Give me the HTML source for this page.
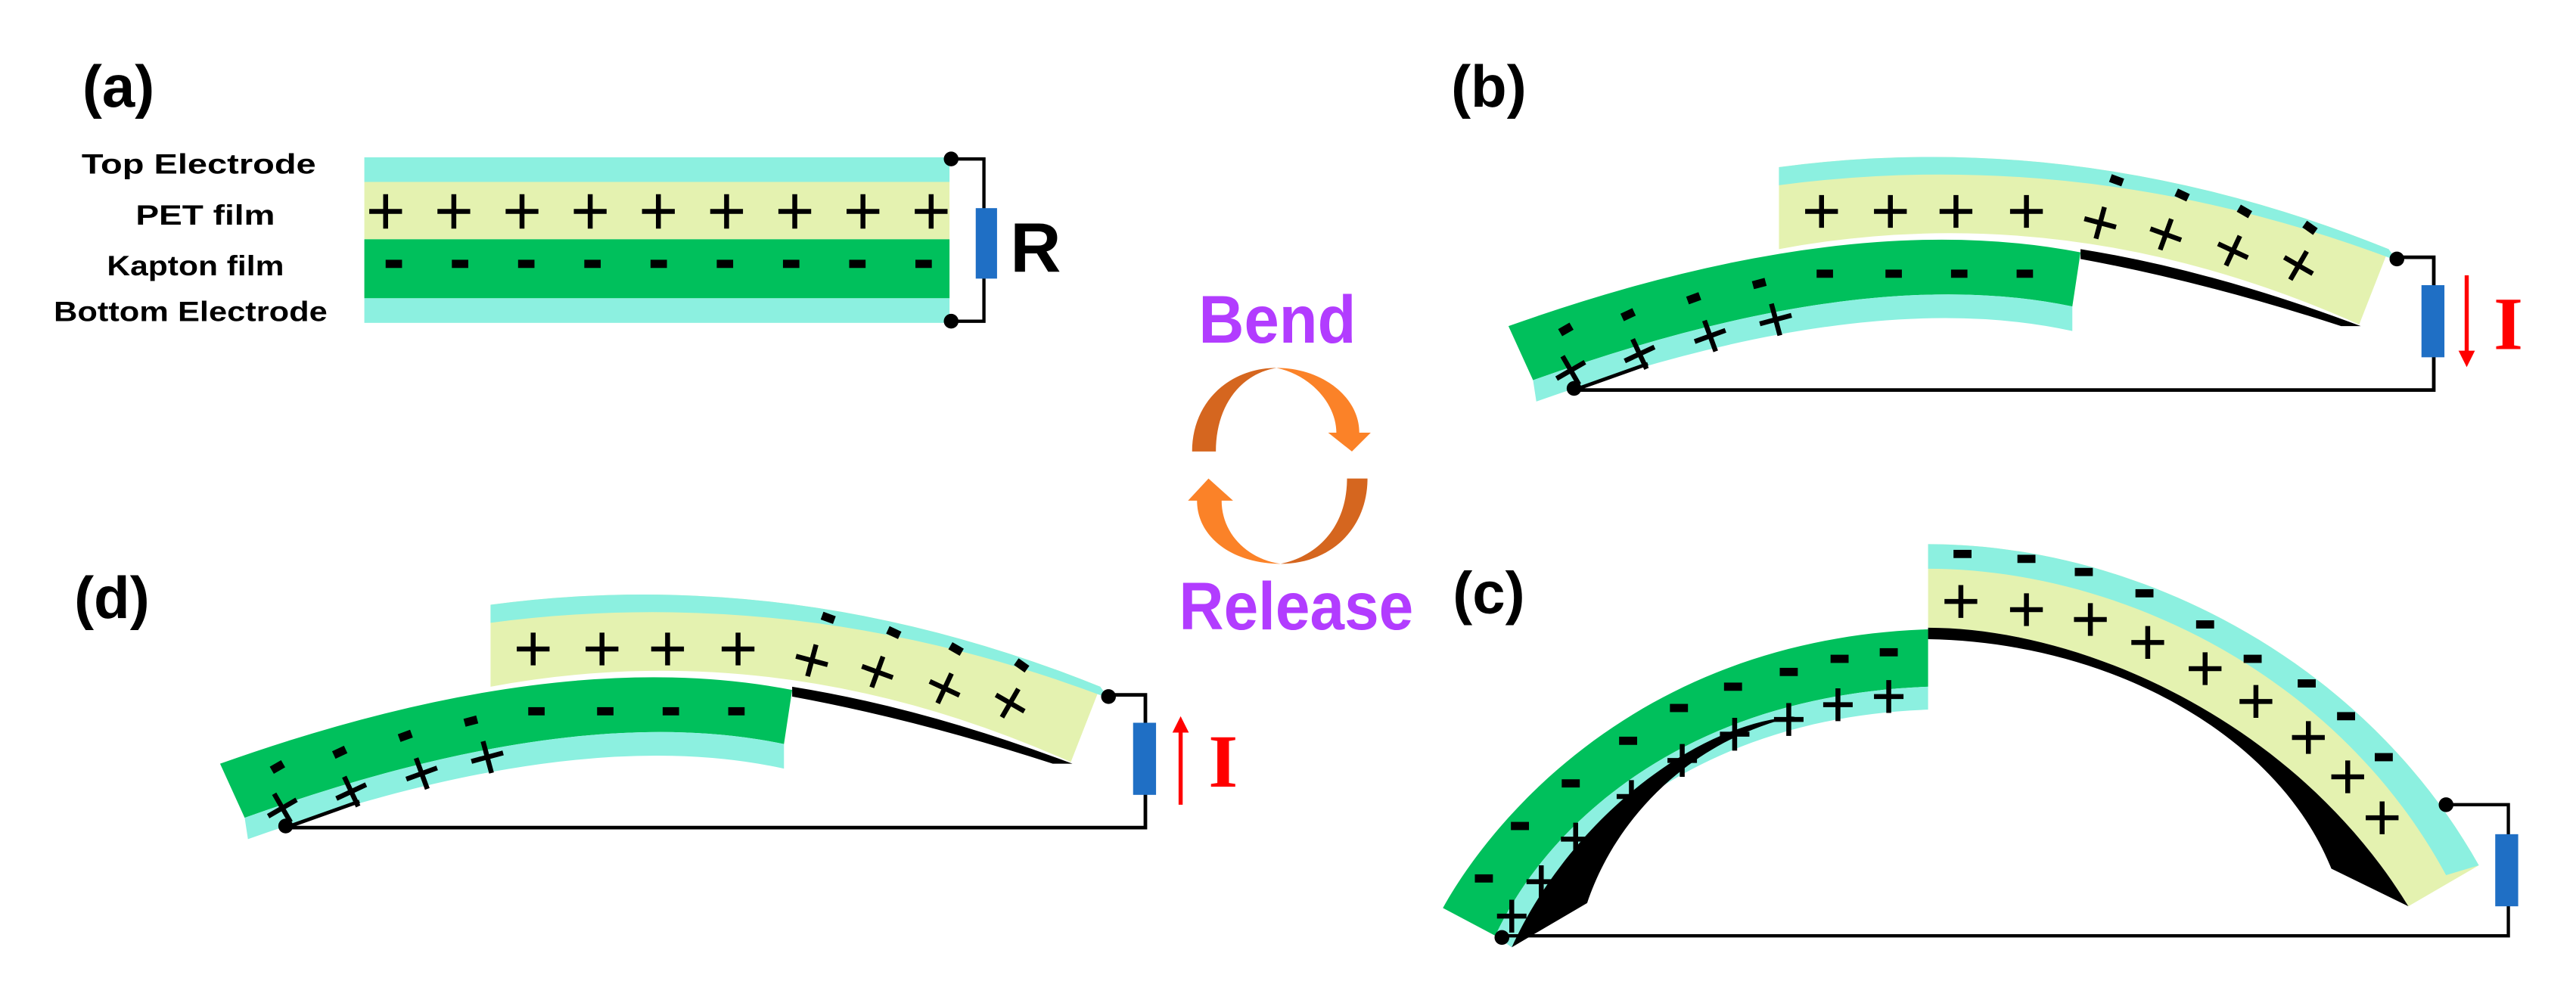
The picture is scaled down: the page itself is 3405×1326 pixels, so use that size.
<!DOCTYPE html>
<html><head><meta charset="utf-8"><style>
html,body{margin:0;padding:0;background:#fff;}
svg{display:block;}
text{font-family:"Liberation Sans",sans-serif;font-weight:bold;}
</style></head><body>
<svg width="3405" height="1326" viewBox="0 0 1571 612" xmlns="http://www.w3.org/2000/svg">
<defs>
<g id="stripB">
  <!-- upper strip -->
  <path d="M1085,102 Q1271,77 1457,152 L1439,198 Q1262,119 1085,152 Z" fill="#e4f2b0"/>
  <path d="M1085,102 Q1271,77 1457,152 L1462,159 Q1275,88 1085,113 Z" fill="#8cf0e0"/>
  <path d="M1269,152 Q1350,165 1440,199 L1428,199 Q1345,172 1269,158 Z" fill="#000"/>
  <!-- lower strip -->
  <path d="M920,199 Q1125,126 1269,154 L1264,187 Q1135,160 935,232 Z" fill="#00c05c"/>
  <path d="M935,232 Q1135,160 1264,187 L1264,202 Q1137,174 937,245 Z" fill="#8cf0e0"/>
  <!-- charges upper -->
  <g stroke="#000" stroke-width="3" fill="none">
    <path transform="translate(1111,129)" d="M-10,0h20M0,-10v20"/>
    <path transform="translate(1153,129)" d="M-10,0h20M0,-10v20"/>
    <path transform="translate(1193,129)" d="M-10,0h20M0,-10v20"/>
    <path transform="translate(1236,129)" d="M-10,0h20M0,-10v20"/>
    <path transform="translate(1281,136) rotate(15)" d="M-10,0h20M0,-10v20"/>
    <path transform="translate(1321,143) rotate(20)" d="M-10,0h20M0,-10v20"/>
    <path transform="translate(1362,153) rotate(25)" d="M-10,0h20M0,-10v20"/>
    <path transform="translate(1402,162) rotate(30)" d="M-10,0h20M0,-10v20"/>
    <path transform="translate(958,226) rotate(-30)" d="M-10,0h20M0,-10v20"/>
    <path transform="translate(1000,216) rotate(-25)" d="M-10,0h20M0,-10v20"/>
    <path transform="translate(1043,205) rotate(-20)" d="M-10,0h20M0,-10v20"/>
    <path transform="translate(1083,195) rotate(-15)" d="M-10,0h20M0,-10v20"/>
  </g>
  <g fill="#000">
    <rect x="-4" y="-2.5" width="8" height="5" transform="translate(1291,110) rotate(20)"/>
    <rect x="-4" y="-2.5" width="8" height="5" transform="translate(1331,119) rotate(25)"/>
    <rect x="-4" y="-2.5" width="8" height="5" transform="translate(1369,129) rotate(30)"/>
    <rect x="-4" y="-2.5" width="8" height="5" transform="translate(1409,139) rotate(35)"/>
    <rect x="-5" y="-2.5" width="10" height="5" transform="translate(1113,167)"/>
    <rect x="-5" y="-2.5" width="10" height="5" transform="translate(1155,167)"/>
    <rect x="-5" y="-2.5" width="10" height="5" transform="translate(1195,167)"/>
    <rect x="-5" y="-2.5" width="10" height="5" transform="translate(1235,167)"/>
    <rect x="-4" y="-2.5" width="8" height="5" transform="translate(955,201) rotate(-30)"/>
    <rect x="-4" y="-2.5" width="8" height="5" transform="translate(993,192) rotate(-25)"/>
    <rect x="-4" y="-2.5" width="8" height="5" transform="translate(1033,182) rotate(-20)"/>
    <rect x="-4" y="-2.5" width="8" height="5" transform="translate(1073,173) rotate(-15)"/>
  </g>
  <!-- circuit -->
  <path d="M1462,157 H1484.5 V238 H960 L1005,222" fill="none" stroke="#000" stroke-width="2.2"/>
  <circle cx="1462" cy="158" r="4.5" fill="#000"/>
  <circle cx="960" cy="237" r="4.5" fill="#000"/>
  <rect x="1477" y="174" width="14" height="44" fill="#1f6fc5"/>
</g>
</defs>

<!-- Panel (a) -->
<text x="50" y="65" font-size="36">(a)</text>
<text x="121" y="106" font-size="17" text-anchor="middle" textLength="143" lengthAdjust="spacingAndGlyphs">Top Electrode</text>
<text x="125" y="137" font-size="17" text-anchor="middle" textLength="85" lengthAdjust="spacingAndGlyphs">PET film</text>
<text x="119" y="168" font-size="17" text-anchor="middle" textLength="108" lengthAdjust="spacingAndGlyphs">Kapton film</text>
<text x="116" y="196" font-size="17" text-anchor="middle" textLength="167" lengthAdjust="spacingAndGlyphs">Bottom Electrode</text>
<rect x="222" y="96" width="357" height="15" fill="#8cf0e0"/>
<rect x="222" y="111" width="357" height="35" fill="#e4f2b0"/>
<rect x="222" y="146" width="357" height="36" fill="#00c05c"/>
<rect x="222" y="182" width="357" height="15" fill="#8cf0e0"/>
<g stroke="#000" stroke-width="3">
  <path d="M225,129h20M235,118.5v21M266.6,129h20M276.6,118.5v21M308.2,129h20M318.2,118.5v21M349.8,129h20M359.8,118.5v21M391.4,129h20M401.4,118.5v21M433,129h20M443,118.5v21M474.6,129h20M484.6,118.5v21M516.2,129h20M526.2,118.5v21M557.8,129h20M567.8,118.5v21"/>
</g>
<g fill="#000">
  <rect x="235" y="158.5" width="10" height="5"/><rect x="275.4" y="158.5" width="10" height="5"/><rect x="315.8" y="158.5" width="10" height="5"/><rect x="356.2" y="158.5" width="10" height="5"/><rect x="396.6" y="158.5" width="10" height="5"/><rect x="437" y="158.5" width="10" height="5"/><rect x="477.4" y="158.5" width="10" height="5"/><rect x="517.8" y="158.5" width="10" height="5"/><rect x="558.2" y="158.5" width="10" height="5"/>
</g>
<path d="M580,97 H600 V196 H580" fill="none" stroke="#000" stroke-width="2"/>
<circle cx="580" cy="97" r="4.5" fill="#000"/>
<circle cx="580" cy="196" r="4.5" fill="#000"/>
<rect x="595" y="127" width="13" height="43" fill="#1f6fc5"/>
<text x="616" y="166" font-size="43">R</text>

<!-- Middle -->
<text x="731" y="209" font-size="41" fill="#b23cff" textLength="96" lengthAdjust="spacingAndGlyphs">Bend</text>
<text x="719" y="384" font-size="41" fill="#b23cff" textLength="143" lengthAdjust="spacingAndGlyphs">Release</text>
<path d="M727,275.5 C727,245 750,224.5 778.5,224.5 C757,228 741.5,247 741.5,275.5 Z" fill="#d5661f"/>
<path d="M778.5,224.5 C806,224.5 829,242 829,264 L836,264 L824.5,275.5 L810,264 L815,264 C815,247 800,229 778.5,224.5 Z" fill="#fb8228"/>
<path d="M834,292 C834,322 812,344 781,344 C805,339 821.5,320 821.5,292 Z" fill="#d5661f"/>
<path d="M781,344 C752,344 730,328 730,305.5 L724.5,305.5 L737,292 L752,305.5 L745,305.5 C745,325 760,341 781,344 Z" fill="#fb8228"/>

<!-- Panel (b) -->
<text x="885" y="65" font-size="36">(b)</text>
<use href="#stripB"/>
<path d="M1504.6,168 V218" stroke="#f00" stroke-width="2.5"/>
<path d="M1499.6,214 L1504.6,224 L1509.6,214 Z" fill="#f00"/>
<text x="1521" y="213" font-size="46" fill="#f00" style="font-family:'Liberation Serif',serif">I</text>

<!-- Panel (d) -->
<text x="45" y="377" font-size="36">(d)</text>
<g transform="translate(-786,267)"><use href="#stripB"/></g>
<path d="M720,443 V491" stroke="#f00" stroke-width="2.5"/>
<path d="M715,447 L720,437 L725,447 Z" fill="#f00"/>
<text x="737" y="480" font-size="46" fill="#f00" style="font-family:'Liberation Serif',serif">I</text>

<!-- Panel (c) -->
<text x="886" y="374" font-size="36">(c)</text>
<path d="M880,554 C910,500 1000,390 1176,384 L1176,419 C1020,425 940,510 912,571 Z" fill="#00c05c"/>
<path d="M912,571 C940,510 1020,425 1176,419 L1176,433 C1030,438 950,520 922,578 Z" fill="#8cf0e0"/>
<path d="M922,578 L968,551 C985,500 1030,452 1095,437 C1030,442 955,505 922,578 Z" fill="#000"/>
<path d="M1176,332 C1300,332 1440,400 1512,528 L1469,553 C1400,440 1270,383 1176,383 Z" fill="#e4f2b0"/>
<path d="M1176,332 C1300,332 1440,400 1512,528 L1492,534 C1425,410 1290,347 1176,347 Z" fill="#8cf0e0"/>
<path d="M1176,383 C1270,383 1400,440 1469,553 L1422,530 C1390,450 1290,392 1176,390 Z" fill="#000"/>
<g fill="#000">
  <rect x="-5.5" y="-2.5" width="11" height="5" transform="translate(905,536)"/>
  <rect x="-5.5" y="-2.5" width="11" height="5" transform="translate(927,504)"/>
  <rect x="-5.5" y="-2.5" width="11" height="5" transform="translate(958,478)"/>
  <rect x="-5.5" y="-2.5" width="11" height="5" transform="translate(993,452)"/>
  <rect x="-5.5" y="-2.5" width="11" height="5" transform="translate(1024,432)"/>
  <rect x="-5.5" y="-2.5" width="11" height="5" transform="translate(1057,419)"/>
  <rect x="-5.5" y="-2.5" width="11" height="5" transform="translate(1091,410)"/>
  <rect x="-5.5" y="-2.5" width="11" height="5" transform="translate(1122,402)"/>
  <rect x="-5.5" y="-2.5" width="11" height="5" transform="translate(1152,398)"/>
  <rect x="-5.5" y="-2.5" width="11" height="5" transform="translate(1197,338)"/>
  <rect x="-5.5" y="-2.5" width="11" height="5" transform="translate(1236,341)"/>
  <rect x="-5.5" y="-2.5" width="11" height="5" transform="translate(1271,349)"/>
  <rect x="-5.5" y="-2.5" width="11" height="5" transform="translate(1308,362)"/>
  <rect x="-5.5" y="-2.5" width="11" height="5" transform="translate(1345,381)"/>
  <rect x="-5.5" y="-2.5" width="11" height="5" transform="translate(1374,402)"/>
  <rect x="-5.5" y="-2.5" width="11" height="5" transform="translate(1407,417)"/>
  <rect x="-5.5" y="-2.5" width="11" height="5" transform="translate(1431,437)"/>
  <rect x="-5.5" y="-2.5" width="11" height="5" transform="translate(1454,462)"/>
</g>
<g stroke="#000" stroke-width="3" fill="none">
  <path transform="translate(922,559)" d="M-9,0h18M0,-10v20"/>
  <path transform="translate(940,538)" d="M-9,0h18M0,-10v20"/>
  <path transform="translate(961,512)" d="M-9,0h18M0,-10v20"/>
  <path transform="translate(995,486)" d="M-9,0h18M0,-10v20"/>
  <path transform="translate(1026,464)" d="M-9,0h18M0,-10v20"/>
  <path transform="translate(1058,448)" d="M-9,0h18M0,-10v20"/>
  <path transform="translate(1091,439)" d="M-9,0h18M0,-10v20"/>
  <path transform="translate(1121,430)" d="M-9,0h18M0,-10v20"/>
  <path transform="translate(1152,425)" d="M-9,0h18M0,-10v20"/>
  <path transform="translate(1196,367)" d="M-10,0h20M0,-10v20"/>
  <path transform="translate(1236,372)" d="M-10,0h20M0,-10v20"/>
  <path transform="translate(1275,378)" d="M-10,0h20M0,-10v20"/>
  <path transform="translate(1310,392)" d="M-10,0h20M0,-10v20"/>
  <path transform="translate(1345,408)" d="M-10,0h20M0,-10v20"/>
  <path transform="translate(1376,428)" d="M-10,0h20M0,-10v20"/>
  <path transform="translate(1408,450)" d="M-10,0h20M0,-10v20"/>
  <path transform="translate(1432,474)" d="M-10,0h20M0,-10v20"/>
  <path transform="translate(1453,499)" d="M-10,0h20M0,-10v20"/>
</g>
<path d="M1492,491 H1530 V571 H916" fill="none" stroke="#000" stroke-width="2"/>
<circle cx="1492" cy="491" r="4.5" fill="#000"/>
<circle cx="916" cy="572" r="4.5" fill="#000"/>
<rect x="1522" y="509" width="14" height="44" fill="#1f6fc5"/>
</svg>
</body></html>
